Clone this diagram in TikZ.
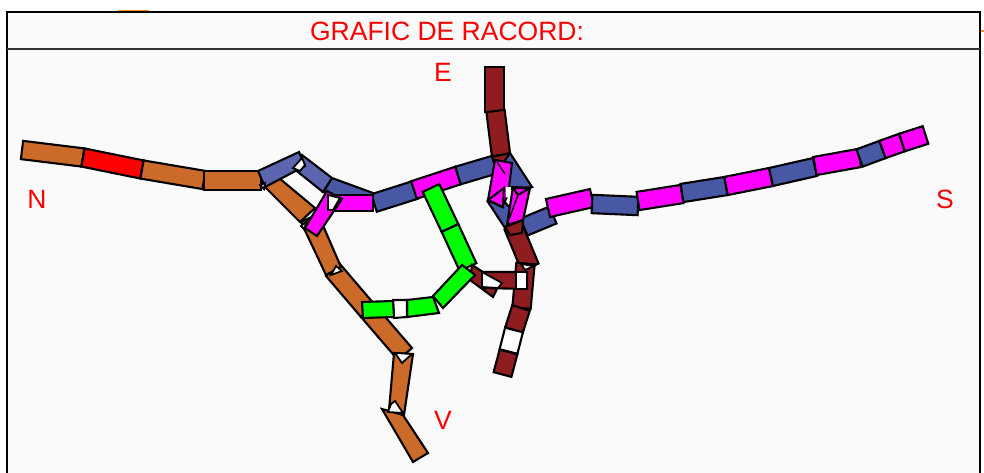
\documentclass[tikz,border=0pt]{standalone}
\usepackage{fontspec}
\setmainfont{Liberation Sans}
\usetikzlibrary{calc}
\definecolor{brownline}{HTML}{CC6A2A}
\definecolor{darkline}{HTML}{8F1C1F}
\definecolor{blueline}{HTML}{4858A5}
\definecolor{slateline}{HTML}{5C66B0}
\definecolor{pinkline}{HTML}{FF00FF}
\definecolor{greenline}{HTML}{00FF00}
\definecolor{panelback}{HTML}{FAFAFA}
\definecolor{orangeline}{HTML}{FF8C1A}
\tikzset{
  frame/.style={draw=black, line width=2pt},
  segment/.style={draw=black, line width=2.1pt, line join=miter},
  hole/.style={draw=black, line width=1.8pt, fill=white},
  cardinal/.style={text=red, font=\fontsize{26.5}{30}\selectfont, inner sep=0pt},
}
\begin{document}
\begin{tikzpicture}[x=1pt, y=-1pt]
  \useasboundingbox (0,0) rectangle (984,473);
  \draw[orangeline, line width=1.5pt] (118,10.5) -- (149,10.5);
  \draw[orangeline, line width=1.5pt] (981,31) -- (984,31);
  \fill[panelback] (7,12) rectangle (980,473);
  \draw[frame] (7,473) -- (7,12) -- (980,12) -- (980,473);
  \draw[frame, draw=black!80, line width=1.5pt] (7,49) -- (980,49);
  \node[cardinal] (title) at (447,31) {GRAFIC DE RACORD:};
  \node[cardinal] (north) at (37,199) {N};
  \node[cardinal] (east) at (443,72) {E};
  \node[cardinal] (south) at (945,199) {S};
  \node[cardinal] (west) at (443,420) {V};

  % straight segments of the four lines
  \foreach \col/\xa/\ya/\xb/\yb in {
    brownline/22/150/83/157.5, red/83/157.5/142/169.5, brownline/142/169.5/204/180, brownline/204/180.5/261/180.5,
    brownline/333/270/368/311, brownline/368/311/405/354,
    blueline/374/203/415/190, pinkline/414/190/458/175.5, blueline/458/175.5/497/164,
    greenline/431/188/450/228, greenline/450/228/468/267,
    darkline/494.5/67/494.5/112, darkline/495.5/111/501/155,
    darkline/513/226/530/267, darkline/525.5/263.5/521.5/308, darkline/521/308/514/330,
    white/514/330/508.5/351.5, darkline/508.5/352/502.5/374.5,
    blueline/524/227/553/215, pinkline/548/208/592/198, blueline/592/204/638/206,
    pinkline/638/201/682/194, blueline/682/193/726/186, pinkline/726/186/771/177,
    blueline/771/177/815/167, pinkline/815/166/859.5/158, blueline/859.5/158/882.5/149.5,
    pinkline/882.5/149.5/902/142.5, pinkline/902/142.5/925.5/135}
  {
    \coordinate (p) at (\xa,\ya);
    \coordinate (q) at (\xb,\yb);
    \draw[segment, fill=\col] ($(p)!9.2pt!90:(q)$) -- ($(q)!9.2pt!-90:(p)$)
      -- ($(q)!9.2pt!90:(p)$) -- ($(p)!9.2pt!-90:(q)$) -- cycle;
  }

  % north junction
  \draw[segment, fill=brownline] (265,187) -- (279,178) -- (315,208) -- (300,222) -- cycle;
  \draw[segment, fill=brownline] (301,222) -- (318,214) -- (341,267) -- (326,275) -- cycle;
  \draw[segment, fill=blueline] (332,178) -- (373,193) -- (373,205) -- (323,192) -- cycle;
  \draw[segment, fill=slateline] (302,155) -- (332,178) -- (323,192) -- (293,168) -- cycle;
  \draw[segment, fill=slateline] (258,171) -- (299,152) -- (305,166) -- (265,187) -- cycle;
  \draw[segment, fill=pinkline] (328,195) -- (373,195) -- (373,211) -- (328,211) -- cycle;
  \draw[segment, fill=pinkline] (327,191) -- (342,199) -- (317,236) -- (305,228) -- cycle;
  \draw[hole] (293,168) -- (302,158) -- (305,165) -- (300,171) -- cycle;
  \draw[hole] (328,195) -- (340,198) -- (333,210) -- (328,210) -- cycle;
  \draw[hole] (260,185) -- (265,183) -- (264,189) -- cycle;
  \draw[hole] (301,226) -- (307,221) -- (304,229) -- cycle;
  \draw[hole] (336,266) -- (342,271) -- (331,275) -- cycle;

  % west branch
  \draw[segment, fill=brownline] (394,353) -- (413,354) -- (404,415) -- (389,410) -- cycle;
  \draw[segment, fill=brownline] (382,409) -- (403,415) -- (428,453) -- (413,462) -- cycle;
  \draw[hole] (395,353) -- (412,354) -- (402,363) -- cycle;
  \draw[hole] (395,401) -- (403,413) -- (388,412) -- (391,404) -- cycle;

  % centre crossing
  \draw[segment, fill=darkline] (492,157) -- (510,153) -- (514,165) -- (496,168) -- cycle;
  \draw[segment, fill=blueline] (510,153) -- (532,187) -- (513,190) -- (497,172) -- cycle;
  \draw[segment, fill=blueline] (488,202) -- (503,200) -- (522,222) -- (505,228) -- cycle;
  \draw[segment, fill=pinkline] (495,160) -- (512,163) -- (508,195) -- (502,207) -- (488,200) -- cycle;
  \draw[segment, fill=pinkline] (488,200) -- (504,188) -- (503,207) -- cycle;
  \draw[segment, fill=pinkline] (513,187) -- (530,188) -- (523,220) -- (507,225) -- cycle;
  \draw[segment, fill=pinkline] (513,188) -- (530,188) -- (518,195) -- cycle;
  \fill[white] (506,187) -- (511,187) -- (509,198) -- (506,197) -- cycle;
  \draw[line width=1.4pt] (497,162) -- (505,174);
  \draw[line width=1.4pt] (518,195) -- (507,225);
  \draw[segment, fill=darkline] (505,227) -- (523,220) -- (522,233) -- (510,235) -- cycle;

  % east connection
  \draw[segment, fill=darkline] (472,265) -- (500,283) -- (493,297) -- (470,280) -- cycle;
  \draw[segment, fill=darkline] (483,272) -- (527,272) -- (527,289) -- (483,288) -- cycle;
  \draw[hole] (482,272) -- (502,283) -- (498,288) -- (482,287) -- cycle;
  \draw[hole] (516,272) rectangle (527,289);
  \draw[hole] (521,264) -- (534,266) -- (525,270) -- cycle;

  % green bend
  \draw[segment, fill=greenline] (433,296) -- (462,265) -- (475,275) -- (443,308) -- cycle;
  \draw[segment, fill=greenline] (407,300) -- (433,297) -- (439,313) -- (407,317) -- cycle;
  \draw[segment, fill=white] (393,300) -- (407,300) -- (407,317) -- (394,318) -- cycle;
  \draw[segment, fill=greenline] (362,302) -- (393,301) -- (394,317) -- (363,318) -- cycle;
\end{tikzpicture}
\end{document}
